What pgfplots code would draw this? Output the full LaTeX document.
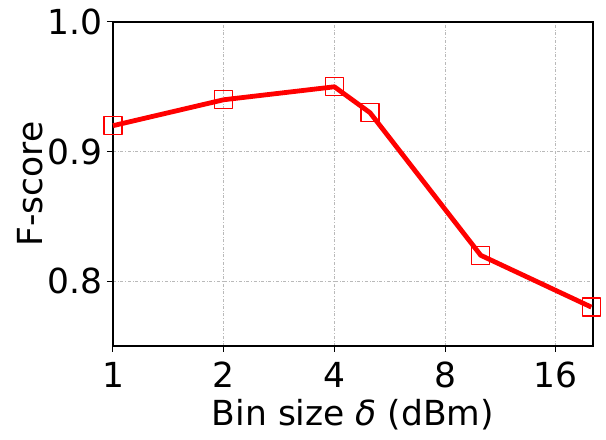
\documentclass[border=0pt]{standalone}
\usepackage{pgfplots}
\pgfplotsset{compat=1.18}
\usepackage{fontspec}
\setmainfont{DejaVu Sans}
\definecolor{mred}{RGB}{255,0,0}
\begin{document}
\begin{tikzpicture}
\begin{axis}[
  name=ax,
  scale only axis,
  width=480pt, height=324pt,
  xmode=log, log basis x=2,
  xmin=1, xmax=20.2,
  ymin=0.75, ymax=1.0,
  xtick={1,2,4,8,16},
  xticklabels={1,2,4,8,16},
  ytick={0.8,0.9,1.0},
  yticklabels={0.8,0.9,1.0},
  /pgf/number format/assume math mode=true,
  tick label style={font=\fontsize{34.5}{40}\selectfont},
  label style={font=\fontsize{34.5}{40}\selectfont},
  xlabel={Bin size \textit{δ} (dBm)},
  ylabel={F-score},
  axis line style={line width=2pt},
  tick style={line width=1pt, black},
  tick align=outside,
  major tick length=6pt,
  xtick pos=bottom, ytick pos=left,
  grid=major,
  grid style={gray!55, dash dot, line width=0.8pt},
  xticklabel style={anchor=base, yshift=-36pt},
  yticklabel style={anchor=east, xshift=-1pt},
  xlabel style={at={(axis description cs:0.5,-0.244)}, anchor=base},
  ylabel style={at={(axis description cs:-0.173,0.5)}, anchor=center},
  clip=false,
]
\addplot[draw=mred, line width=4.8pt, line join=round, mark=square, mark size=9pt, mark options={solid, draw=mred, line width=1.4pt, fill=none}] coordinates {
(1,0.92) (2,0.94) (4,0.95) (5,0.93) (10,0.82) (20,0.78)};
\end{axis}
\pgfresetboundingbox
\path ([shift={(-113pt,-94pt)}]ax.south west) rectangle ([shift={(13pt,22pt)}]ax.north east);
\end{tikzpicture}
\end{document}
